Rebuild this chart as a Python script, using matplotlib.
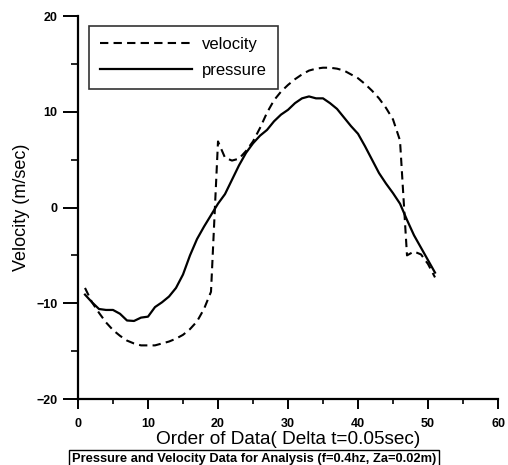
import matplotlib
matplotlib.use("Agg")
import matplotlib.pyplot as plt
from matplotlib.ticker import MultipleLocator

order = list(range(1, 52))
velocity = [-8.4, -9.9, -11.0, -12.0, -12.8, -13.4, -13.9, -14.2, -14.4, -14.4,
            -14.4, -14.2, -14.0, -13.7, -13.3, -12.7, -11.9, -10.6, -8.8, 6.9,
            5.2, 4.9, 5.1, 5.9, 6.9, 8.3, 9.9, 11.2, 12.1, 12.8,
            13.4, 13.9, 14.3, 14.5, 14.6, 14.6, 14.5, 14.3, 13.9, 13.5,
            12.9, 12.2, 11.4, 10.4, 9.2, 7.0, -5.0, -4.6, -4.9, -5.9,
            -7.3]
pressure = [-9.1, -9.9, -10.6, -10.7, -10.7, -11.1, -11.8, -11.85, -11.5, -11.4,
            -10.4, -9.9, -9.3, -8.4, -7.0, -5.0, -3.3, -2.0, -0.8, 0.4,
            1.4, 2.9, 4.4, 5.7, 6.7, 7.5, 8.1, 9.0, 9.7, 10.2,
            10.9, 11.4, 11.6, 11.4, 11.4, 10.9, 10.3, 9.4, 8.5, 7.7,
            6.4, 5.0, 3.6, 2.5, 1.5, 0.4, -1.3, -2.9, -4.2, -5.5,
            -6.8]

xticks = [0, 10, 20, 30, 40, 50, 60]
yticks = [-20, -10, 0, 10, 20]

plt.rcParams['font.family'] = ['Liberation Sans', 'DejaVu Sans']

fig = plt.figure(figsize=(5.08, 4.65), dpi=100)
ax = fig.add_axes([78/508, 1-399/465, 420/508, 383/465])

ax.plot(order, velocity, color='black', lw=1.5, linestyle=(0, (4, 2.5)), label='velocity')
ax.plot(order, pressure, color='black', lw=1.6, label='pressure')

ax.set_xlim(0, 60)
ax.set_ylim(-20, 20)
ax.set_xticks(xticks)
ax.set_yticks(yticks)
ax.xaxis.set_minor_locator(MultipleLocator(5))
ax.yaxis.set_minor_locator(MultipleLocator(5))
for s in ['top', 'right']:
    ax.spines[s].set_visible(False)
for s in ['left', 'bottom']:
    ax.spines[s].set_linewidth(1.6)
ax.tick_params(axis='y', which='major', direction='out', length=10.8, width=1.4, labelsize=9, pad=4.0)
ax.tick_params(axis='y', which='minor', direction='out', length=5, width=1.2)
ax.tick_params(axis='x', which='major', direction='out', length=7.2, width=1.4, labelsize=9, pad=6.6)
ax.tick_params(axis='x', which='minor', direction='out', length=3.6, width=1.2)
for lab in ax.get_xticklabels() + ax.get_yticklabels():
    lab.set_fontweight('bold')

ax.set_ylabel('Velocity (m/sec)', fontsize=13, labelpad=4.5)
ax.set_xlabel('Order of Data( Delta t=0.05sec)', fontsize=13.7, labelpad=0.5)

leg = ax.legend(loc='upper left', bbox_to_anchor=(11/420, 1-10/383), fontsize=12,
                frameon=True, fancybox=False, edgecolor='black', handlelength=5.5,
                borderpad=0.68, labelspacing=0.64, handletextpad=0.6, borderaxespad=0)
leg.get_frame().set_linewidth(1.2)

fig.text(72/508, 1-459/465, 'Pressure and Velocity Data for Analysis (f=0.4hz, Za=0.02m)',
         fontsize=9.3, fontweight='bold', ha='left', va='center',
         bbox=dict(boxstyle='square,pad=0.2', facecolor='white', edgecolor='black', lw=1))

fig.savefig('out.png', dpi=100)
